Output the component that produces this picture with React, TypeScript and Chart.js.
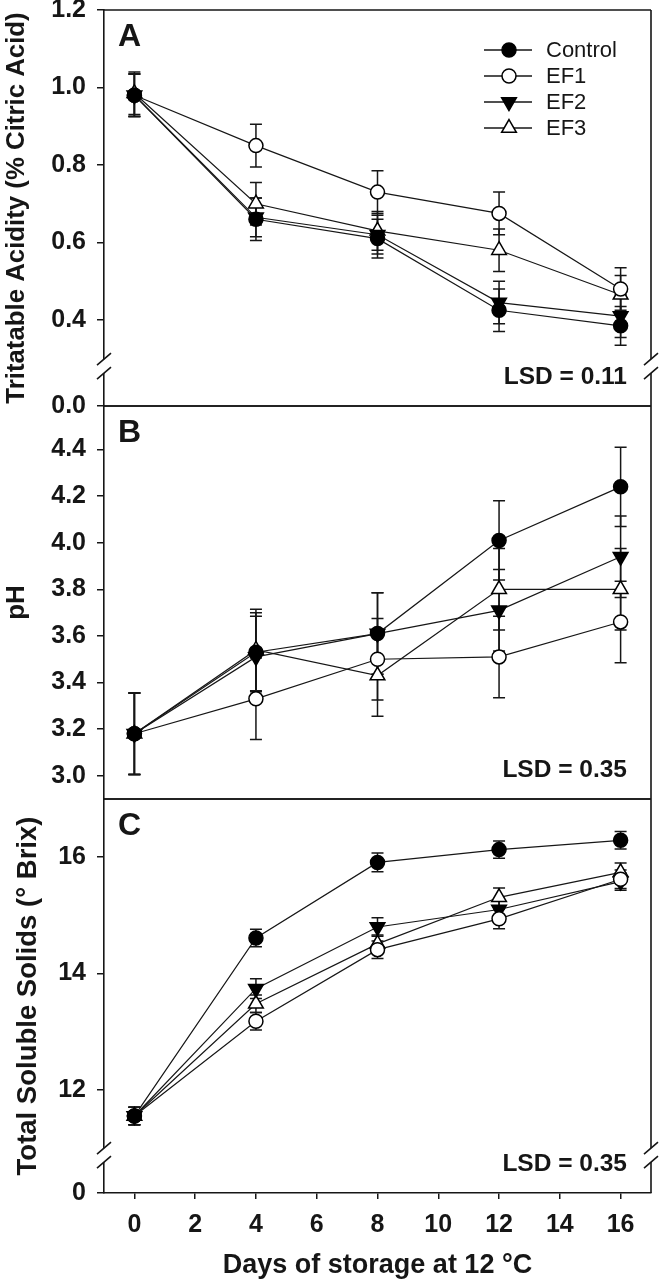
import React, { useEffect, useRef } from "react";
import { Chart, registerables } from "chart.js";
import { drawPoint } from "chart.js/helpers";

Chart.register(...registerables);

const FONT = "'Liberation Sans', Arial, Helvetica, sans-serif";
const INK = "#161616";

// ---------- data ----------
const DAYS = [0, 4, 8, 12, 16];
const X_TICKS = [0, 2, 4, 6, 8, 10, 12, 14, 16];
const TREATMENTS = ["Control", "EF1", "EF2", "EF3"];

// Titratable acidity (% citric acid)
const TA_CONTROL = [0.98, 0.66, 0.61, 0.425, 0.385];
const TA_EF1 = [0.98, 0.85, 0.73, 0.675, 0.48];
const TA_EF2 = [0.98, 0.665, 0.62, 0.445, 0.41];
const TA_EF3 = [0.985, 0.7, 0.63, 0.58, 0.465];
const TA_ERR_CONTROL = [0.055, 0.055, 0.05, 0.055, 0.05];
const TA_ERR_EF1 = [0.055, 0.055, 0.055, 0.055, 0.055];
const TA_ERR_EF2 = [0.055, 0.05, 0.05, 0.055, 0.055];
const TA_ERR_EF3 = [0.055, 0.055, 0.05, 0.055, 0.05];
const TA_TICKS = [0.4, 0.6, 0.8, 1.0, 1.2];
const TA_BREAK_LABEL = "0.0";

// pH
const PH_CONTROL = [3.18, 3.53, 3.61, 4.01, 4.24];
const PH_EF1 = [3.18, 3.33, 3.5, 3.51, 3.66];
const PH_EF2 = [3.18, 3.51, 3.61, 3.71, 3.94];
const PH_EF3 = [3.18, 3.54, 3.43, 3.8, 3.8];
const PH_ERR_CONTROL = [0.175, 0.17, 0.175, 0.17, 0.17];
const PH_ERR_EF1 = [0.175, 0.175, 0.175, 0.175, 0.175];
const PH_ERR_EF2 = [0.175, 0.175, 0.175, 0.175, 0.175];
const PH_ERR_EF3 = [0.175, 0.175, 0.175, 0.175, 0.175];
const PH_TICKS = [3.0, 3.2, 3.4, 3.6, 3.8, 4.0, 4.2, 4.4];

// Total soluble solids (° Brix)
const TSS_CONTROL = [11.55, 14.61, 15.91, 16.13, 16.29];
const TSS_EF1 = [11.55, 13.18, 14.41, 14.94, 15.62];
const TSS_EF2 = [11.55, 13.74, 14.8, 15.1, 15.58];
const TSS_EF3 = [11.55, 13.48, 14.51, 15.31, 15.74];
const TSS_ERR_CONTROL = [0.15, 0.15, 0.16, 0.15, 0.15];
const TSS_ERR_EF1 = [0.15, 0.15, 0.15, 0.17, 0.16];
const TSS_ERR_EF2 = [0.15, 0.17, 0.16, 0.15, 0.15];
const TSS_ERR_EF3 = [0.15, 0.15, 0.15, 0.16, 0.16];
const TSS_TICKS = [12, 14, 16];
const TSS_BREAK_LABEL = "0";

const MARKERS = [
  { style: "circle", rot: 0, r: 7, fill: "#000" },
  { style: "circle", rot: 0, r: 7, fill: "#fff" },
  { style: "triangle", rot: 180, r: 8.5, fill: "#000" },
  { style: "triangle", rot: 0, r: 8.5, fill: "#fff" },
];

type PanelCfg = {
  means: number[][];
  errs: number[][];
  yMin: number;
  yMax: number;
  yTicks: number[];
  breakLabel: string | null;
  breakValue: number | null;
  digits: number;
  title: string;
  titleSize: number;
  titlePad: number;
  letter: string;
  lsd: string;
  legend: boolean;
  showX: boolean;
  padTop: number;
  padBottom: number;
};

const PANEL_A: PanelCfg = {
  means: [TA_CONTROL, TA_EF1, TA_EF2, TA_EF3],
  errs: [TA_ERR_CONTROL, TA_ERR_EF1, TA_ERR_EF2, TA_ERR_EF3],
  yMin: 0.178,
  yMax: 1.2,
  yTicks: TA_TICKS,
  breakLabel: TA_BREAK_LABEL,
  breakValue: 0.281,
  digits: 1,
  title: "Tritatable Acidity (% Citric Acid)",
  titleSize: 25.8,
  titlePad: 1,
  letter: "A",
  lsd: "LSD = 0.11",
  legend: true,
  showX: false,
  padTop: 30,
  padBottom: 30,
};

const PANEL_B: PanelCfg = {
  means: [PH_CONTROL, PH_EF1, PH_EF2, PH_EF3],
  errs: [PH_ERR_CONTROL, PH_ERR_EF1, PH_ERR_EF2, PH_ERR_EF3],
  yMin: 2.9,
  yMax: 4.587,
  yTicks: PH_TICKS,
  breakLabel: null,
  breakValue: null,
  digits: 1,
  title: "pH",
  titleSize: 26,
  titlePad: 1,
  letter: "B",
  lsd: "LSD = 0.35",
  legend: false,
  showX: false,
  padTop: 30,
  padBottom: 30,
};

const PANEL_C: PanelCfg = {
  means: [TSS_CONTROL, TSS_EF1, TSS_EF2, TSS_EF3],
  errs: [TSS_ERR_CONTROL, TSS_ERR_EF1, TSS_ERR_EF2, TSS_ERR_EF3],
  yMin: 10.227,
  yMax: 17,
  yTicks: TSS_TICKS,
  breakLabel: TSS_BREAK_LABEL,
  breakValue: 10.879,
  digits: 0,
  title: "Total Soluble Solids (° Brix)",
  titleSize: 27.5,
  titlePad: 12,
  letter: "C",
  lsd: "LSD = 0.35",
  legend: false,
  showX: true,
  padTop: 30,
  padBottom: 0,
};

// ---------- plugins ----------
const errorBarPlugin = {
  id: "errorBars",
  beforeDatasetsDraw(chart: any) {
    const { ctx } = chart;
    const xs = chart.scales.x;
    const ys = chart.scales.y;
    ctx.save();
    ctx.strokeStyle = INK;
    ctx.lineWidth = 1.5;
    chart.data.datasets.forEach((ds: any) => {
      const errs: number[] = ds.errors || [];
      ds.data.forEach((p: any, j: number) => {
        const e = errs[j];
        if (!e) return;
        const px = xs.getPixelForValue(p.x);
        const top = ys.getPixelForValue(p.y + e);
        const bot = ys.getPixelForValue(p.y - e);
        ctx.beginPath();
        ctx.moveTo(px, top);
        ctx.lineTo(px, bot);
        ctx.moveTo(px - 6, top);
        ctx.lineTo(px + 6, top);
        ctx.moveTo(px - 6, bot);
        ctx.lineTo(px + 6, bot);
        ctx.stroke();
      });
    });
    ctx.restore();
  },
};

const decorPlugin = {
  id: "decor",
  afterDraw(chart: any, _args: any, o: any) {
    const { ctx, chartArea: a } = chart;
    ctx.save();
    ctx.strokeStyle = INK;
    ctx.lineWidth = 1.6;
    ctx.beginPath();
    ctx.moveTo(a.left, a.top);
    ctx.lineTo(a.right, a.top);
    ctx.moveTo(a.right, a.top);
    ctx.lineTo(a.right, a.bottom);
    if (o.drawBottom) {
      ctx.moveTo(a.left, a.bottom);
      ctx.lineTo(a.right, a.bottom);
    }
    ctx.stroke();

    if (o.breakValue != null) {
      const yc = chart.scales.y.getPixelForValue(o.breakValue);
      [a.left, a.right].forEach((ax: number) => {
        ctx.fillStyle = "#fff";
        ctx.fillRect(ax - 3, yc - 7, 6, 14);
        ctx.beginPath();
        [-7, 7].forEach((s) => {
          ctx.moveTo(ax - 7, yc + s + 6);
          ctx.lineTo(ax + 7, yc + s - 6);
        });
        ctx.stroke();
      });
    }

    ctx.fillStyle = INK;
    ctx.textAlign = "left";
    ctx.textBaseline = "alphabetic";
    ctx.font = `bold 32px ${FONT}`;
    ctx.fillText(o.letter, a.left + 14, a.top + 36);

    ctx.textAlign = "right";
    ctx.font = `bold 24.5px ${FONT}`;
    ctx.fillText(o.lsd, a.right - 24, a.bottom - 22);

    if (o.legend) {
      ctx.font = `22px ${FONT}`;
      ctx.textBaseline = "middle";
      ctx.textAlign = "left";
      TREATMENTS.forEach((name, i) => {
        const y = a.top + 40 + i * 26;
        const m = MARKERS[i];
        ctx.strokeStyle = INK;
        ctx.lineWidth = 1.5;
        ctx.beginPath();
        ctx.moveTo(a.right - 167, y);
        ctx.lineTo(a.right - 119, y);
        ctx.stroke();
        ctx.fillStyle = m.fill;
        ctx.strokeStyle = "#000";
        ctx.lineWidth = 1.5;
        drawPoint(ctx, { pointStyle: m.style, rotation: m.rot, radius: m.r, borderWidth: 1.5 } as any, a.right - 142, y);
        ctx.fillStyle = INK;
        ctx.fillText(name, a.right - 105, y + 1);
      });
    }
    ctx.restore();
  },
};

function buildPanel(canvas: HTMLCanvasElement, cfg: PanelCfg) {
  const datasets = TREATMENTS.map((name, i) => ({
    label: name,
    data: DAYS.map((d, j) => ({ x: d, y: cfg.means[i][j] })),
    errors: cfg.errs[i],
    borderColor: INK,
    borderWidth: 1.2,
    tension: 0,
    fill: false,
    pointStyle: MARKERS[i].style,
    rotation: MARKERS[i].rot,
    pointRotation: MARKERS[i].rot,
    pointRadius: MARKERS[i].r,
    pointHoverRadius: MARKERS[i].r,
    pointBackgroundColor: MARKERS[i].fill,
    pointBorderColor: "#000",
    pointBorderWidth: 1.5,
  }));

  const tickFont = { family: FONT, size: 25, weight: "bold" as const };

  return new Chart(canvas, {
    type: "line",
    data: { datasets } as any,
    options: {
      responsive: false,
      animation: false,
      devicePixelRatio: 1,
      layout: { padding: { top: cfg.padTop, bottom: cfg.padBottom, left: 0, right: 9 } },
      plugins: {
        legend: { display: false },
        tooltip: { enabled: false },
        decor: {
          letter: cfg.letter,
          lsd: cfg.lsd,
          legend: cfg.legend,
          breakValue: cfg.breakValue,
          drawBottom: !cfg.showX,
        },
      } as any,
      scales: {
        x: {
          type: "linear",
          display: cfg.showX,
          min: -1,
          max: 17,
          afterBuildTicks: (s: any) => {
            s.ticks = X_TICKS.map((v) => ({ value: v }));
          },
          afterFit: (s: any) => {
            s.height = cfg.showX ? 89 : 0;
          },
          ticks: {
            autoSkip: false,
            maxRotation: 0,
            padding: 11,
            color: INK,
            font: tickFont,
            callback: (v: any) => String(v),
          },
          grid: { drawOnChartArea: false, drawTicks: true, tickLength: 6, color: INK, lineWidth: 1.5 },
          border: { display: true, color: INK, width: 1.6 },
          title: {
            display: true,
            text: "Days of storage at 12 °C",
            color: INK,
            font: { family: FONT, size: 27, weight: "bold" },
            padding: { top: 0, bottom: 0 },
          },
        },
        y: {
          type: "linear",
          min: cfg.yMin,
          max: cfg.yMax,
          afterBuildTicks: (s: any) => {
            const vals = (cfg.breakLabel ? [cfg.yMin] : []).concat(cfg.yTicks);
            s.ticks = vals.map((v) => ({ value: v }));
          },
          afterFit: (s: any) => {
            s.width = 104;
          },
          ticks: {
            autoSkip: false,
            padding: 11,
            color: INK,
            font: tickFont,
            callback: (v: any) =>
              cfg.breakLabel && Math.abs(Number(v) - cfg.yMin) < 1e-9
                ? cfg.breakLabel
                : Number(v).toFixed(cfg.digits),
          },
          grid: { drawOnChartArea: false, drawTicks: true, tickLength: 7, color: INK, lineWidth: 1.5 },
          border: { display: true, color: INK, width: 1.6 },
          title: {
            display: true,
            text: cfg.title,
            color: INK,
            font: { family: FONT, size: cfg.titleSize, weight: "bold" },
            padding: { top: cfg.titlePad, bottom: 0 },
          },
        },
      },
    } as any,
    plugins: [errorBarPlugin, decorPlugin],
  });
}

export default function App() {
  const refA = useRef<HTMLCanvasElement>(null);
  const refB = useRef<HTMLCanvasElement>(null);
  const refC = useRef<HTMLCanvasElement>(null);

  useEffect(() => {
    const charts = [
      buildPanel(refA.current!, PANEL_A),
      buildPanel(refB.current!, PANEL_B),
      buildPanel(refC.current!, PANEL_C),
    ];
    return () => charts.forEach((c) => c.destroy());
  }, []);

  return (
    <div
      style={{
        position: "absolute",
        left: 0,
        top: 0,
        width: 661,
        height: 1282,
        overflow: "hidden",
        background: "#fff",
      }}
    >
      <canvas ref={refA} width={661} height={456} style={{ position: "absolute", left: 0, top: -20 }} />
      <canvas ref={refB} width={661} height={453} style={{ position: "absolute", left: 0, top: 376 }} />
      <canvas ref={refC} width={661} height={513} style={{ position: "absolute", left: 0, top: 769 }} />
    </div>
  );
}
